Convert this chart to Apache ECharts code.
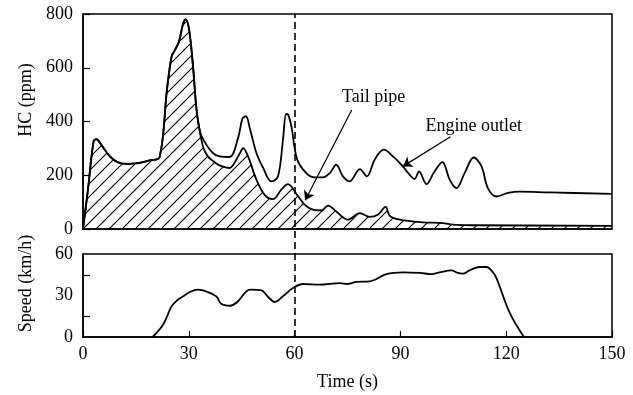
<!DOCTYPE html>
<html>
<head>
<meta charset="utf-8">
<script src="https://cdn.jsdelivr.net/npm/echarts@6/dist/echarts.min.js"></script>
<style>
html,body{margin:0;padding:0;background:#fff;}
#c{width:633px;height:395px;}
</style>
</head>
<body>
<div id="c"></div>
<script>
// ---- data ----
const xTicks = [0, 30, 60, 90, 120, 150];
const hcTicks = [0, 200, 400, 600, 800];
const speedTicks = [0, 30, 60];

// Engine outlet HC (time s, ppm)
const engineOutlet = [
  [0,0],[1.4,146],[3,326],[3.8,334],[5.2,313],[7.6,270],[9.9,248],[12.8,242],[15.6,245],
  [18.9,255],[21.7,267],[23.8,518],[25.1,641],[25.8,660],[27.2,697],[28.4,765],[29.1,780],
  [30.1,741],[31.2,604],[32.2,443],[33.3,357],[35,313],[36.9,282],[38.8,270],[41.6,268],
  [44,340],[45.2,410],[46.2,420],[47.4,369],[49.2,282],[51.1,227],[53.4,177],[55.3,196],[56.7,332],
  [57.6,428],[58.2,425],[59.1,381],[60.7,260],[63.3,208],[65.7,192],[68,192],[70,208],[71.8,239],
  [73.7,196],[75.6,177],[78.5,223],[80.5,196],[82.7,258],[85.3,295],[87.9,270],[90.7,233],
  [92.6,202],[94,186],[95.3,214],[97.4,167],[99.5,210],[101.9,249],[104,183],[105.9,152],
  [108.2,208],[110.8,266],[113,233],[114.8,152],[117.2,121],[120.5,134],[123.8,139],
  [132.3,136],[150,131]
];

// Tail pipe HC (time s, ppm)
const tailPipe = [
  [0,0],[1.4,146],[3,326],[3.8,334],[5.2,313],[7.6,270],[9.9,248],[12.8,242],[15.6,245],
  [18.9,255],[21.7,267],[23.8,518],[25.1,641],[25.8,660],[27.2,697],[28.4,765],[29.1,780],
  [30.1,741],[31.2,604],[32.2,443],[33.3,350],[34.2,300],[35.4,270],[37.7,245],[39.5,233],
  [41.6,227],[42.6,239],[44.5,282],[45.4,301],[46.8,270],[49.2,183],[51.5,127],[53.9,111],
  [56.2,146],[58.1,167],[60.7,127],[62.9,90],[65.2,72],[67.6,69],[69.5,87],[71.8,65],
  [75.1,35],[78.5,59],[81.3,45],[83.6,53],[85.8,82],[87,49],[89.8,35],[96.4,25],[102,22],
  [104.9,16],[110,14],[150,12]
];

// Vehicle speed (time s, km/h)
const speed = [
  [19.7,0],[22.7,8.9],[25.1,22],[26.9,27],[28.4,29.4],[30.3,32.5],[32.6,34.2],[35.4,32.5],
  [37.8,29.4],[39.2,24],[41.6,22.6],[43.9,25.7],[46.3,33],[47.7,34.2],[50.6,33.7],[52.5,28.9],
  [54.4,25.3],[56.7,29.4],[59.5,35.4],[62.4,38.3],[67.1,37.8],[72.8,39],[75.1,38.3],[77.5,39.8],
  [81.3,40.2],[83.2,41.9],[86,45.5],[90.7,46.7],[95.5,46.3],[98.8,45.5],[101.1,46.7],[104.4,48.2],
  [106.3,46.3],[107.7,45.8],[109.6,48.2],[112.5,50.6],[114.4,50.6],[115.8,48.2],[117.2,42.7],
  [121,17.4],[125,0]
];

const markerTime = 60;
const tailLabel = {text: 'Tail pipe', at: [82.4, 491], from: [76.2, 443], to: [63, 107]};
const engineLabel = {text: 'Engine outlet', at: [110.8, 384], from: [104.2, 343], to: [90.7, 233]};

// ---- chart ----
const FONT = '"Liberation Serif", "DejaVu Serif", serif';
const FS = 18;

const hatch = document.createElement('canvas');
hatch.width = 13; hatch.height = 13;
(function(){
  const g = hatch.getContext('2d');
  g.strokeStyle = '#000';
  g.lineWidth = 1.1;
  g.beginPath();
  g.moveTo(-1, 14); g.lineTo(14, -1);
  g.moveTo(-7.5, 7.5); g.lineTo(7.5, -7.5);
  g.moveTo(5.5, 20.5); g.lineTo(20.5, 5.5);
  g.stroke();
})();

const chart = echarts.init(document.getElementById('c'), null, {renderer: 'canvas'});

const axisLine = {show: true, lineStyle: {color: '#000', width: 1.5}};
const labelStyle = {color: '#000', fontFamily: FONT, fontSize: FS};

function annotation(a) {
  return {
    markLine: {
      silent: true, animation: false,
      symbol: ['none', 'arrow'], symbolSize: 9,
      label: {show: false},
      lineStyle: {color: '#000', width: 1.2, type: 'solid'},
      data: [[{coord: a.from}, {coord: a.to}]]
    },
    markPoint: {
      silent: true, animation: false,
      symbol: 'rect', symbolSize: 0,
      label: {show: true, position: 'inside', formatter: a.text, color: '#000', fontFamily: FONT, fontSize: FS},
      data: [{coord: a.at}]
    }
  };
}

chart.setOption({
  animation: false,
  backgroundColor: '#fff',
  grid: [
    {left: 83, top: 14, width: 529, height: 215, show: true, borderColor: '#000', borderWidth: 1.5},
    {left: 83, top: 254, width: 529, height: 83, show: true, borderColor: '#000', borderWidth: 1.5},
    {left: 83, top: 14, width: 529, height: 323, show: false}
  ],
  xAxis: [
    {gridIndex: 0, type: 'value', min: xTicks[0], max: xTicks[xTicks.length-1], interval: 30,
     axisLine: axisLine, axisTick: {show: false}, axisLabel: {show: false}, splitLine: {show: false}},
    {gridIndex: 1, type: 'value', min: xTicks[0], max: xTicks[xTicks.length-1], interval: 30,
     axisLine: axisLine, axisTick: {show: true, inside: true, length: 6, lineStyle: {color: '#000', width: 1.2}},
     axisLabel: Object.assign({margin: 8}, labelStyle), splitLine: {show: false},
     name: 'Time (s)', nameLocation: 'middle', nameGap: 36, nameTextStyle: labelStyle},
    {gridIndex: 2, type: 'value', min: 0, max: 150, show: false}
  ],
  yAxis: [
    {gridIndex: 0, type: 'value', min: hcTicks[0], max: hcTicks[hcTicks.length-1], interval: 200,
     axisLine: axisLine, axisTick: {show: true, inside: true, length: 7, lineStyle: {color: '#000', width: 1.2}},
     axisLabel: Object.assign({margin: 10}, labelStyle), splitLine: {show: false},
     name: 'HC (ppm)', nameLocation: 'middle', nameGap: 48,
     nameTextStyle: Object.assign({padding: [0, 0, 0, 43]}, labelStyle)},
    {gridIndex: 1, type: 'value', min: speedTicks[0], max: speedTicks[speedTicks.length-1], interval: 30,
     axisLine: axisLine, axisTick: {show: false, inside: true},
     minorTick: {show: true, splitNumber: 2, length: 7, lineStyle: {color: '#000', width: 1.2}},
     axisLabel: Object.assign({margin: 10}, labelStyle), splitLine: {show: false}, minorSplitLine: {show: false},
     name: 'Speed (km/h)', nameLocation: 'middle', nameGap: 48,
     nameTextStyle: Object.assign({padding: [0, 0, 0, 24]}, labelStyle)},
    {gridIndex: 2, type: 'value', min: 0, max: 1, show: false}
  ],
  series: [
    Object.assign({
      name: 'Tail pipe', type: 'line', xAxisIndex: 0, yAxisIndex: 0,
      data: tailPipe, smooth: 0.35, showSymbol: false, symbol: 'none',
      lineStyle: {color: '#000', width: 1.8},
      areaStyle: {color: {image: hatch, repeat: 'repeat'}, opacity: 1},
      z: 2
    }, annotation(tailLabel)),
    Object.assign({
      name: 'Engine outlet', type: 'line', xAxisIndex: 0, yAxisIndex: 0,
      data: engineOutlet, smooth: 0.35, showSymbol: false, symbol: 'none',
      lineStyle: {color: '#000', width: 1.8},
      z: 3
    }, annotation(engineLabel)),
    {
      name: 'Speed', type: 'line', xAxisIndex: 1, yAxisIndex: 1,
      data: speed, smooth: 0.35, showSymbol: false, symbol: 'none',
      lineStyle: {color: '#000', width: 1.8}
    },
    {
      name: 'marker', type: 'line', xAxisIndex: 2, yAxisIndex: 2,
      data: [[markerTime, 0]], showSymbol: false, symbol: 'none', lineStyle: {opacity: 0},
      markLine: {
        silent: true, animation: false, symbol: 'none', label: {show: false},
        lineStyle: {color: '#000', width: 1.6, type: [7, 4]},
        data: [{xAxis: markerTime}]
      },
      z: 5
    }
  ]
});
</script>
</body>
</html>
